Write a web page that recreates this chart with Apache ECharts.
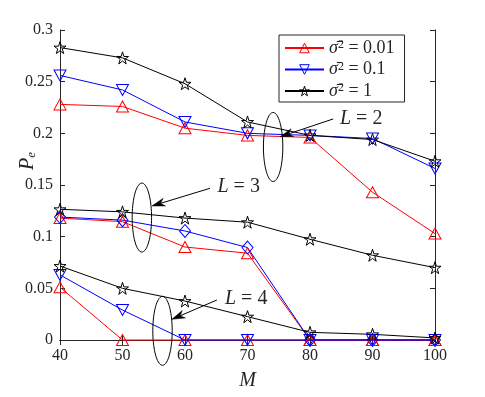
<!DOCTYPE html>
<html>
<head>
<meta charset="UTF-8">
<title>Pe vs M</title>
<script src="https://cdn.jsdelivr.net/npm/echarts@6.0.0/dist/echarts.min.js"></script>
<style>
  html, body { margin: 0; padding: 0; background: #fff; }
  #chart { width: 485px; height: 397px; }
</style>
</head>
<body>
<div id="chart"></div>
<script>
// x values and axis ticks
const mValues = [40, 50, 60, 70, 80, 90, 100];
const xTicks = [40, 50, 60, 70, 80, 90, 100];
const yTicks = [0, 0.05, 0.1, 0.15, 0.2, 0.25, 0.3];

// L = 2
const l2Red   = [0.228, 0.226, 0.205, 0.198, 0.196, 0.143, 0.103];
const l2Blue  = [0.256, 0.242, 0.211, 0.200, 0.198, 0.195, 0.166];
const l2Black = [0.283, 0.273, 0.248, 0.211, 0.198, 0.194, 0.173];
// L = 3
const l3Red   = [0.118, 0.1145, 0.090, 0.084, 0, 0, 0];
const l3Blue  = [0.119, 0.116, 0.1055, 0.0895, 0, 0, 0];
const l3Black = [0.1265, 0.124, 0.118, 0.114, 0.0975, 0.082, 0.070];
// L = 4
const l4Red   = [0.051, 0, 0, 0, 0, 0, 0];
const l4Blue  = [0.063, 0.029, 0, 0, 0, 0, 0];
const l4Black = [0.0716, 0.050, 0.0377, 0.0226, 0.0074, 0.0055, 0.002];

const legendNames = ['σ̄² = 0.01', 'σ̄² = 0.1', 'σ̄² = 1'];

// annotations (data coordinates): ellipse centres, arrow tail/head, label anchor
const groupLabels = ['L = 2', 'L = 3', 'L = 4'];
const ellipseCentres = [[74.1, 0.1868], [53.1, 0.1185], [56.4, 0.0089]];
const arrowTails = [[83.7, 0.2139], [64.0, 0.1468], [65.1, 0.0387]];
const arrowHeads = [[75.2, 0.1967], [54.7, 0.1297], [57.9, 0.0200]];
const labelAnchors = [[84.8, 0.2139], [65.2, 0.1481], [66.4, 0.0397]];

const RED = '#ff0000', BLUE = '#0000ff', BLACK = '#000000';
const AX = '#262626';
const FONT = 'Liberation Serif';
const STAR = 'path://M100,0 L122.5,69.1 L195.1,69.1 L136.3,111.8 L158.8,180.9 L100,138.2 L41.2,180.9 L63.7,111.8 L4.9,69.1 L77.5,69.1 Z';
const DOWN = 'path://M0,0 L12,0 L6,11 Z';
const CLEAR = 'rgba(255,255,255,0)';

function mk(name, vals, color, symbol, size) {
  return {
    type: 'line',
    name: name,
    data: mValues.map((m, i) => [m, vals[i]]),
    symbol: symbol,
    symbolSize: size,
    clip: false,
    lineStyle: { color: color, width: 1 },
    itemStyle: { color: CLEAR, borderColor: color, borderWidth: 1 },
    emphasis: { disabled: true }
  };
}

const chart = echarts.init(document.getElementById('chart'));

const axisCommon = {
  type: 'value',
  axisLine: { show: true, lineStyle: { color: AX, width: 1 } },
  axisTick: { show: true, inside: true, length: 5, lineStyle: { color: AX } },
  splitLine: { show: false }
};

chart.setOption({
  animation: false,
  backgroundColor: '#fff',
  grid: { left: 60, right: 50, top: 30, bottom: 57 },
  legend: {
    data: legendNames,
    orient: 'vertical',
    left: 279,
    top: 35,
    padding: [4, 10, 2, 5],
    itemWidth: 39,
    itemHeight: 12,
    itemGap: 3.5,
    borderColor: AX,
    borderWidth: 1,
    backgroundColor: '#fff',
    selectedMode: false,
    itemStyle: { color: CLEAR, borderWidth: 1 },
    formatter: function (n) {
      return '{s|σ̄}{p|2}{n|' + n.slice(3) + '}';
    },
    textStyle: {
      color: AX,
      rich: {
        s: { fontFamily: FONT, fontStyle: 'italic', fontSize: 18, color: AX, lineHeight: 18 },
        p: { fontFamily: FONT, fontSize: 12, color: AX, verticalAlign: 'top', lineHeight: 18 },
        n: { fontFamily: FONT, fontSize: 18, color: AX, lineHeight: 18 }
      }
    }
  },
  xAxis: [
    Object.assign({}, axisCommon, {
      position: 'bottom',
      min: xTicks[0], max: xTicks[xTicks.length - 1], interval: xTicks[1] - xTicks[0],
      axisLabel: { fontFamily: FONT, fontSize: 16, color: AX, margin: 8 },
      name: 'M', nameLocation: 'middle', nameGap: 31,
      nameTextStyle: { fontFamily: FONT, fontStyle: 'italic', fontSize: 20, color: AX }
    }),
    Object.assign({}, axisCommon, {
      position: 'top',
      min: xTicks[0], max: xTicks[xTicks.length - 1], interval: xTicks[1] - xTicks[0],
      axisLabel: { show: false }
    })
  ],
  yAxis: [
    Object.assign({}, axisCommon, {
      position: 'left',
      min: yTicks[0], max: yTicks[yTicks.length - 1], interval: yTicks[1] - yTicks[0],
      axisLabel: { fontFamily: FONT, fontSize: 16, color: AX, margin: 7 }
    }),
    Object.assign({}, axisCommon, {
      position: 'right',
      min: yTicks[0], max: yTicks[yTicks.length - 1], interval: yTicks[1] - yTicks[0],
      axisLabel: { show: false }
    })
  ],
  series: [
    mk(legendNames[0], l2Red, RED, 'triangle', [12, 11]),
    mk(legendNames[1], l2Blue, BLUE, DOWN, [12, 11]),
    mk(legendNames[2], l2Black, BLACK, STAR, 12),
    mk(legendNames[0], l3Red, RED, 'triangle', [12, 11]),
    mk(legendNames[1], l3Blue, BLUE, 'diamond', [11, 13]),
    mk(legendNames[2], l3Black, BLACK, STAR, 12),
    mk(legendNames[0], l4Red, RED, 'triangle', [12, 11]),
    mk(legendNames[1], l4Blue, BLUE, DOWN, [12, 11]),
    mk(legendNames[2], l4Black, BLACK, STAR, 12)
  ]
});

// ellipses, arrows and L labels
function toPx(p) { return chart.convertToPixel({ xAxisIndex: 0, yAxisIndex: 0 }, p); }
const graphics = [];
for (let k = 0; k < groupLabels.length; k++) {
  const c = toPx(ellipseCentres[k]);
  const pts = [];
  for (let i = 0; i < 72; i++) {
    const t = i / 72 * Math.PI * 2;
    pts.push([c[0] + 9.7 * Math.cos(t), c[1] + 34.5 * Math.sin(t)]);
  }
  graphics.push({ type: 'polygon', shape: { points: pts }, style: { fill: 'none', stroke: BLACK, lineWidth: 1 }, z: 100 });

  const t0 = toPx(arrowTails[k]), h = toPx(arrowHeads[k]);
  const dx = h[0] - t0[0], dy = h[1] - t0[1];
  const len = Math.sqrt(dx * dx + dy * dy);
  const ux = dx / len, uy = dy / len, px = -uy, py = ux;
  const hl = 13, hw = 4, notch = 9;
  const bx = h[0] - ux * hl, by = h[1] - uy * hl;
  const nx = h[0] - ux * notch, ny = h[1] - uy * notch;
  graphics.push({ type: 'line', shape: { x1: t0[0], y1: t0[1], x2: nx, y2: ny }, style: { stroke: BLACK, lineWidth: 1 }, z: 100 });
  graphics.push({ type: 'polygon', shape: { points: [h, [bx + px * hw, by + py * hw], [nx, ny], [bx - px * hw, by - py * hw]] }, style: { fill: BLACK, stroke: BLACK, lineWidth: 0.5 }, z: 100 });

  const a = toPx(labelAnchors[k]);
  graphics.push({
    type: 'text', x: a[0], y: a[1], z: 100,
    style: {
      text: '{i|L}{n|' + groupLabels[k].slice(1) + '}',
      align: 'left', verticalAlign: 'middle',
      rich: {
        i: { fontFamily: FONT, fontStyle: 'italic', fontSize: 20, fill: AX },
        n: { fontFamily: FONT, fontSize: 20, fill: AX }
      }
    }
  });
}

// y axis title P_e, placed like the original (left of the axis, above the 0.15 label)
graphics.push({
  type: 'text', x: 28, y: 161, rotation: Math.PI / 2, z: 100,
  style: {
    text: '{p|P}{e|e}',
    align: 'center', verticalAlign: 'middle',
    rich: {
      p: { fontFamily: FONT, fontStyle: 'italic', fontSize: 20, fill: AX },
      e: { fontFamily: FONT, fontStyle: 'italic', fontSize: 13, fill: AX, verticalAlign: 'bottom', padding: [8, 0, 0, 0] }
    }
  }
});
chart.setOption({ graphic: graphics });
</script>
</body>
</html>
